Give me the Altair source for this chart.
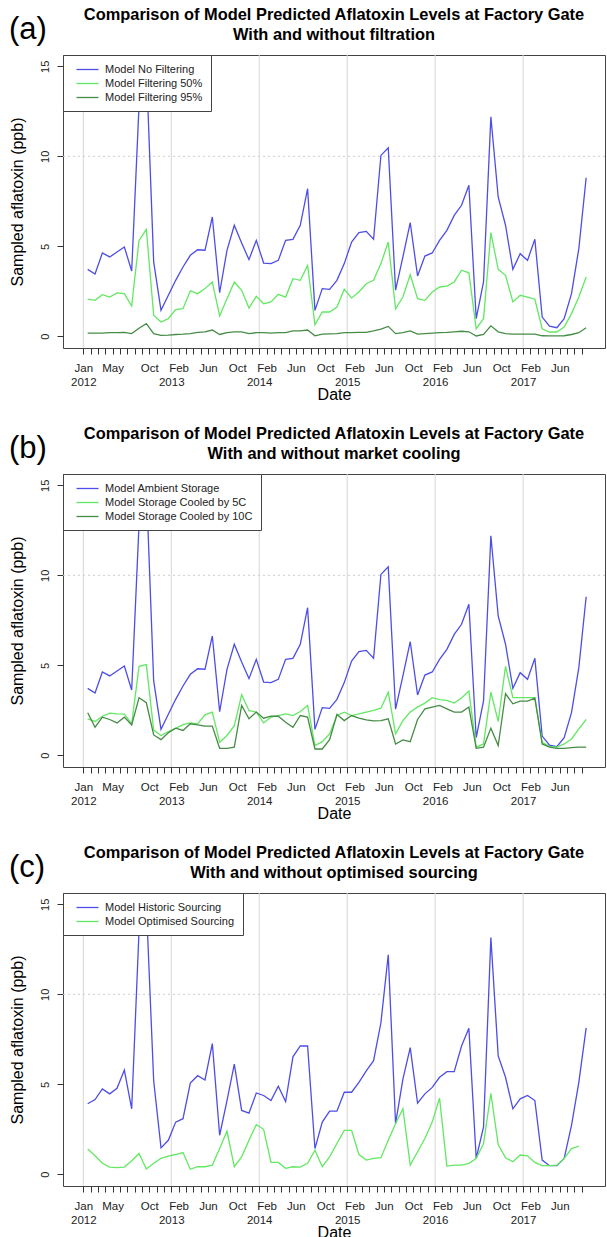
import json
import altair as alt
import pandas as pd

FONT = "Liberation Sans, Arial, sans-serif"

# month index: 0 = Jan 2012 ... 68 = Sep 2017
months = list(range(69))

no_filter = [3.72, 3.46, 4.63, 4.41, 4.68, 4.96, 3.63, 12.8, 15.0, 4.13, 1.44, 2.28,
             3.11, 3.85, 4.5, 4.81, 4.78, 6.63, 2.42, 4.78, 6.17, 5.18, 4.26, 5.33,
             4.07, 4.04, 4.22, 5.33, 5.39, 6.17, 8.2, 1.44, 2.65, 2.61, 3.11, 4.04,
             5.24, 5.76, 5.83, 5.39, 10.05, 10.48, 2.56, 4.41, 6.31, 3.35, 4.46, 4.63,
             5.33, 5.89, 6.72, 7.28, 8.39, 0.98, 3.02, 12.2, 7.74, 6.17, 3.72, 4.59,
             4.22, 5.39, 1.07, 0.57, 0.48, 0.98, 2.37, 4.87, 8.81]
filter50 = [2.06, 2.0, 2.31, 2.18, 2.41, 2.37, 1.68, 5.33, 5.94, 1.17, 0.79, 0.98,
            1.48, 1.53, 2.53, 2.37, 2.65, 3.02, 1.13, 2.09, 3.02, 2.56, 1.57, 2.22,
            1.81, 1.91, 2.33, 2.18, 3.2, 3.11, 3.94, 0.64, 1.35, 1.35, 1.63, 2.61,
            2.13, 2.46, 2.92, 3.11, 4.04, 5.24, 1.53, 2.18, 3.42, 2.09, 2.0, 2.46,
            2.74, 2.79, 3.02, 3.67, 3.53, 0.42, 0.98, 5.76, 3.72, 3.39, 1.91, 2.28,
            2.18, 2.06, 0.42, 0.24, 0.24, 0.52, 1.26, 2.18, 3.29]
filter95 = [0.18, 0.18, 0.18, 0.2, 0.2, 0.22, 0.15, 0.45, 0.7, 0.15, 0.05, 0.07,
            0.1, 0.12, 0.15, 0.22, 0.25, 0.35, 0.1, 0.2, 0.25, 0.25, 0.15, 0.2,
            0.2, 0.18, 0.2, 0.2, 0.3, 0.3, 0.35, 0.03, 0.12, 0.14, 0.15, 0.2,
            0.2, 0.22, 0.22, 0.3, 0.4, 0.55, 0.15, 0.2, 0.3, 0.12, 0.15, 0.18,
            0.2, 0.22, 0.25, 0.28, 0.25, 0.02, 0.1, 0.58, 0.25, 0.15, 0.12, 0.12,
            0.12, 0.12, 0.03, 0.02, 0.02, 0.03, 0.1, 0.2, 0.48]
cooled5 = [2.03, 1.88, 2.17, 2.34, 2.3, 2.29, 1.75, 4.94, 5.04, 1.4, 1.1, 1.32,
           1.5, 1.7, 1.8, 1.75, 2.25, 2.4, 0.72, 1.1, 1.65, 3.36, 2.49, 2.4,
           1.8, 2.12, 2.21, 2.3, 2.21, 2.43, 2.77, 0.54, 0.76, 1.19, 2.21, 2.4,
           2.21, 2.3, 2.4, 2.49, 2.62, 3.51, 1.19, 1.93, 2.4, 2.68, 2.9, 3.2,
           3.09, 3.05, 2.9, 3.18, 3.57, 0.45, 0.63, 3.51, 1.88, 4.94, 3.2, 3.2,
           3.2, 3.2, 0.72, 0.5, 0.45, 0.63, 0.91, 1.47, 1.99]
cooled10 = [2.36, 1.56, 2.12, 1.99, 1.8, 2.12, 1.69, 3.2, 2.92, 1.13, 0.87, 1.25,
            1.51, 1.38, 1.75, 1.69, 1.62, 1.62, 0.39, 0.39, 0.45, 2.77, 2.03, 2.4,
            2.06, 2.17, 2.17, 1.84, 1.56, 2.21, 2.12, 0.35, 0.35, 0.87, 2.27, 1.93,
            2.21, 2.06, 1.97, 1.91, 1.93, 2.03, 0.63, 0.86, 0.76, 1.99, 2.58, 2.68,
            2.77, 2.58, 2.4, 2.4, 2.68, 0.39, 0.45, 1.51, 0.54, 3.42, 2.86, 3.01,
            3.01, 3.18, 0.63, 0.45, 0.39, 0.39, 0.43, 0.45, 0.45]
historic = [3.92, 4.15, 4.74, 4.47, 4.78, 5.79, 3.64, 13.5, 15.0, 5.2, 1.47, 1.89,
            2.9, 3.09, 5.07, 5.48, 5.24, 7.26, 2.17, 4.1, 6.12, 3.55, 3.4, 4.52,
            4.38, 4.1, 4.89, 4.04, 6.53, 7.13, 7.13, 1.43, 2.9, 3.51, 3.51, 4.56,
            4.56, 5.11, 5.75, 6.31, 8.42, 12.2, 2.81, 5.29, 7.04, 3.95, 4.47, 4.83,
            5.39, 5.7, 5.7, 7.13, 8.11, 0.88, 2.63, 13.15, 6.58, 5.39, 3.64, 4.19,
            4.38, 4.1, 0.79, 0.48, 0.48, 0.88, 2.72, 5.11, 8.14]
optimised = [1.4, 1.03, 0.61, 0.4, 0.37, 0.4, 0.75, 1.16, 0.29, 0.61, 0.88, 1.01,
             1.1, 1.21, 0.28, 0.42, 0.42, 0.51, 1.43, 2.39, 0.42, 0.97, 1.89, 2.76,
             2.5, 0.66, 0.66, 0.33, 0.42, 0.4, 0.61, 1.34, 0.42, 0.97, 1.71, 2.44,
             2.44, 1.1, 0.79, 0.88, 0.92, 1.89, 2.81, 3.64, 0.51, 1.25, 1.99, 2.9,
             4.23, 0.46, 0.51, 0.51, 0.61, 0.88, 1.71, 4.5, 1.65, 0.92, 0.7, 1.07,
             1.03, 0.66, 0.48, 0.48, 0.51, 0.88, 1.43, 1.56, None]

month_label_pos = [0, 4, 9, 13, 17, 21, 25, 29, 33, 37, 41, 45, 49, 53, 57, 61, 65]
month_label_txt = ["Jan", "May", "Oct", "Feb", "Jun", "Oct", "Feb", "Jun", "Oct",
                   "Feb", "Jun", "Oct", "Feb", "Jun", "Oct", "Feb", "Jun"]
year_label_pos = [0, 12, 24, 36, 48, 60]
year_label_txt = ["2012", "2013", "2014", "2015", "2016", "2017"]
limit_ppb = [10]
y_ticks = [0, 5, 10, 15]

BLUE = "#4d4de8"
GREEN = "#62e862"
DGREEN = "#468c46"

# ---- label expression for two-line month / year axis ----
label_map = {p: [t] for p, t in zip(month_label_pos, month_label_txt)}
for p, t in zip(year_label_pos, year_label_txt):
    label_map[p] = [label_map[p][0], t] if p in label_map else ["", t]
expr = ""
for p, v in sorted(label_map.items()):
    val = json.dumps(v) if len(v) > 1 else json.dumps(v[0])
    expr += f"datum.value == {p} ? {val} : "
expr += "''"

W, H = 542, 293
xscale = alt.Scale(domain=[-2.77, 71.17], nice=False, zero=False)
yscale = alt.Scale(domain=[-0.65, 15.63], nice=False, zero=False)

x_axis = alt.Axis(values=months, labelExpr=expr, tickSize=6, tickColor="#333",
                  labelFontSize=11.5, labelFont=FONT, labelColor="#222",
                  labelPadding=8.5, labelLineHeight=14, labelOverlap=False,
                  labelBound=False, labelFlush=False, labelAngle=0,
                  labelAlign="center", labelBaseline="top", domain=False, grid=False,
                  title="Date", titleFont=FONT, titleFontSize=16,
                  titleFontWeight="normal", titleColor="black", titlePadding=-2)
y_axis = alt.Axis(values=y_ticks, tickSize=6, tickColor="#333", labelAngle=270,
                  labelAlign="center", labelBaseline="bottom", labelPadding=7,
                  labelFontSize=11, labelFont=FONT, labelColor="#222",
                  domain=False, grid=False, title="Sampled aflatoxin (ppb)",
                  titleFont=FONT, titleFontSize=16, titleFontWeight="normal",
                  titleColor="black", titlePadding=14)


def panel(tag, subtitle, names, series, colors):
    rows = []
    for name, vals in zip(names, series):
        for m, v in zip(months, vals):
            rows.append({"series": name, "m": m, "value": v})
    df = pd.DataFrame(rows)

    vgrid = alt.Chart(pd.DataFrame({"yr": year_label_pos})).mark_rule(
        color="#d6d6d6", strokeWidth=1).encode(
        x=alt.X("yr:Q", scale=xscale, axis=x_axis))
    hline = alt.Chart(pd.DataFrame({"lim": limit_ppb})).mark_rule(
        color="#cfcfcf", strokeWidth=1, strokeDash=[2, 3]).encode(
        y=alt.Y("lim:Q", scale=yscale, axis=y_axis))

    legend = alt.Legend(title=None, orient="top-left", offset=0, fillColor="white",
                        strokeColor="#444", padding=8, labelFont=FONT,
                        labelFontSize=11, labelColor="#222",
                        symbolType="M-2,0L2,0", symbolSize=121,
                        symbolStrokeWidth=1.3, symbolOffset=10, labelOffset=11,
                        rowPadding=2, labelLimit=300)
    color = alt.Color("series:N", scale=alt.Scale(domain=names, range=colors),
                      legend=legend)
    lines = []
    for name in names:
        lines.append(
            alt.Chart(df).transform_filter(alt.datum.series == name)
            .transform_calculate(t="datum.m + 0.6")
            .mark_line(strokeWidth=1.3, clip=True)
            .encode(x=alt.X("t:Q", scale=xscale, axis=x_axis),
                    y=alt.Y("value:Q", scale=yscale, axis=y_axis),
                    color=color)
        )
    label = alt.Chart(pd.DataFrame({"tag": [tag]})).mark_text(
        align="left", baseline="alphabetic", fontSize=31, font=FONT,
        color="black").encode(text="tag:N", x=alt.value(-54), y=alt.value(-16.5))

    return alt.layer(vgrid, hline, *lines, label).properties(
        width=W, height=H,
        title=alt.TitleParams(
            text=["Comparison of Model Predicted Aflatoxin Levels at Factory Gate",
                  subtitle],
            font=FONT, fontSize=16.4, fontWeight="bold", color="black",
            anchor="middle", frame="group", lineHeight=20, offset=-30))


pa = panel("(a)", "With and without filtration",
           ["Model No Filtering", "Model Filtering 50%", "Model Filtering 95%"],
           [no_filter, filter50, filter95], [BLUE, GREEN, DGREEN])
pb = panel("(b)", "With and without market cooling",
           ["Model Ambient Storage", "Model Storage Cooled by 5C",
            "Model Storage Cooled by 10C"],
           [no_filter, cooled5, cooled10], [BLUE, GREEN, DGREEN])
pc = panel("(c)", "With and without optimised sourcing",
           ["Model Historic Sourcing", "Model Optimised Sourcing"],
           [historic, optimised], [BLUE, GREEN])

chart = alt.vconcat(pa, pb, pc, spacing=22).resolve_scale(
    color="independent").properties(
    padding={"left": 8, "top": 6, "right": 0, "bottom": 0},
    background="white").configure_view(stroke="#444", strokeWidth=1)

chart.save("out.html", embed_options={"renderer": "svg", "actions": False})
